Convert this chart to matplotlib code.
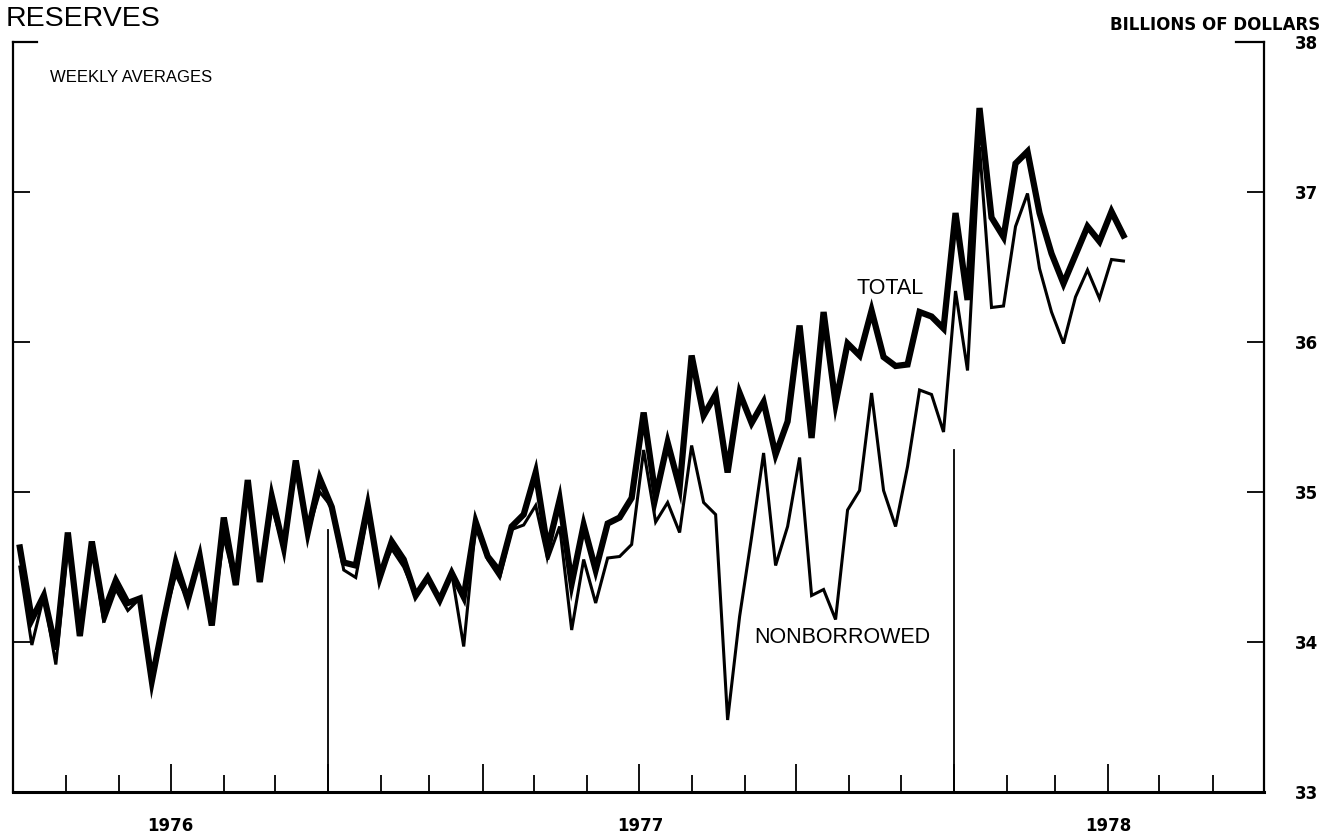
import numpy as np
import pandas as pd
import matplotlib
matplotlib.use("Agg")
import matplotlib.pyplot as plt
import matplotlib.dates as mdates

# weekly averages, billions of dollars
total = [34.63, 34.15, 34.31, 33.95, 34.73, 34.04, 34.67, 34.20, 34.41, 34.26,
         34.29, 33.74, 34.15, 34.53, 34.28, 34.57, 34.11, 34.83, 34.38, 35.08,
         34.40, 34.97, 34.63, 35.21, 34.73, 35.09, 34.90, 34.53, 34.51, 34.91,
         34.43, 34.67, 34.55, 34.31, 34.43, 34.28, 34.46, 34.30, 34.80, 34.57,
         34.47, 34.77, 34.85, 35.13, 34.62, 34.95, 34.39, 34.78, 34.48, 34.79,
         34.83, 34.96, 35.53, 34.97, 35.33, 35.03, 35.91, 35.51, 35.65, 35.13,
         35.66, 35.46, 35.60, 35.25, 35.47, 36.11, 35.36, 36.20, 35.59, 35.99,
         35.91, 36.21, 35.90, 35.84, 35.85, 36.20, 36.17, 36.09, 36.86, 36.28,
         37.56, 36.83, 36.70, 37.19, 37.27, 36.86, 36.59, 36.39, 36.58, 36.77,
         36.67, 36.87, 36.71]
nonborrowed = [34.50, 33.98, 34.31, 33.85, 34.65, 34.04, 34.67, 34.13, 34.35, 34.21,
               34.29, 33.74, 34.15, 34.45, 34.28, 34.57, 34.11, 34.70, 34.38, 35.00,
               34.40, 34.90, 34.63, 35.15, 34.73, 35.00, 34.90, 34.48, 34.43, 34.85,
               34.45, 34.62, 34.50, 34.31, 34.43, 34.28, 34.46, 33.97, 34.78, 34.55,
               34.43, 34.75, 34.78, 34.91, 34.55, 34.77, 34.08, 34.55, 34.26, 34.56,
               34.57, 34.65, 35.28, 34.80, 34.93, 34.73, 35.31, 34.93, 34.85, 33.48,
               34.17, 34.70, 35.26, 34.51, 34.77, 35.23, 34.31, 34.35, 34.15, 34.88,
               35.01, 35.66, 35.01, 34.77, 35.17, 35.68, 35.65, 35.40, 36.34, 35.81,
               37.30, 36.23, 36.24, 36.77, 36.99, 36.49, 36.20, 35.99, 36.30, 36.48,
               36.29, 36.55, 36.54]
weeks = pd.date_range("1976-07-05", periods=len(total), freq="7D")

years = ["1976", "1977", "1978"]
year_pos = pd.to_datetime(["1976-10-01", "1977-07-02", "1978-04-01"])
year_breaks = pd.to_datetime(["1977-01-01", "1978-01-01"])
break_tops = [34.75, 35.28]
yticks = [33, 34, 35, 36, 37, 38]

fig = plt.figure(figsize=(13.31, 8.34), dpi=100)
ax = fig.add_axes([13 / 1331, 42 / 834, 1251 / 1331, 750 / 834])

ax.plot(weeks, total, color="black", lw=4.5, solid_joinstyle="miter", zorder=3)
ax.plot(weeks, nonborrowed, color="black", lw=2.2, solid_joinstyle="miter", zorder=4)

for d, top in zip(year_breaks, break_tops):
    ax.plot([d, d], [33, top], color="black", lw=1.3)

ax.set_xlim(pd.Timestamp("1976-07-01"), pd.Timestamp("1978-07-01"))
ax.set_ylim(33, 38)

# month ticks, quarters longer
ax.xaxis.set_major_locator(mdates.MonthLocator(bymonth=[1, 4, 7, 10]))
ax.xaxis.set_minor_locator(mdates.MonthLocator())
ax.xaxis.set_major_formatter(plt.NullFormatter())
ax.tick_params(axis="x", which="major", direction="in", length=20, width=1.3)
ax.tick_params(axis="x", which="minor", direction="in", length=12, width=1.3)

ax.set_yticks(yticks)
ax.tick_params(axis="y", direction="in", length=12, width=1.3, left=True, right=True,
               labelleft=False, labelright=True, pad=22)
for lab in ax.get_yticklabels():
    lab.set_fontfamily("DejaVu Sans")
    lab.set_fontweight("bold")
    lab.set_fontsize(12)

ax.spines["top"].set_visible(False)
ax.spines["bottom"].set_linewidth(2.2)
ax.spines["left"].set_linewidth(1.6)
ax.spines["right"].set_linewidth(1.6)
ax.plot([0, 0.019], [1, 1], transform=ax.transAxes, color="black", lw=1.6, clip_on=False)
ax.plot([0.978, 1], [1, 1], transform=ax.transAxes, color="black", lw=1.6, clip_on=False)

for yr, d in zip(years, year_pos):
    ax.text(d, -0.045, yr, transform=ax.get_xaxis_transform(), ha="center", va="center",
            fontsize=12, fontweight="bold", family="DejaVu Sans")

fig.text(6 / 1331, 1 - 19 / 834, "RESERVES", fontsize=20.5, family="Liberation Sans",
         ha="left", va="center")
fig.text(50 / 1331, 1 - 78 / 834, "WEEKLY AVERAGES", fontsize=12, family="Liberation Sans",
         ha="left", va="center")
fig.text(1320 / 1331, 1 - 25 / 834, "BILLIONS OF DOLLARS", fontsize=12, fontweight="bold",
         family="DejaVu Sans", ha="right", va="center")

ax.text(pd.Timestamp("1977-11-25"), 36.36, "TOTAL", fontsize=15.5, family="Liberation Sans",
        ha="center", va="center")
ax.text(pd.Timestamp("1977-10-28"), 34.03, "NONBORROWED", fontsize=15.5,
        family="Liberation Sans", ha="center", va="center")

fig.savefig("out.png", dpi=100)
